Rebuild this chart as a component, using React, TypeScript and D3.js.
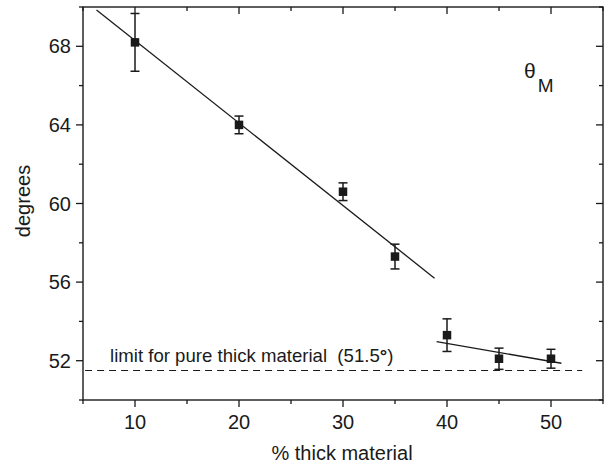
import React, { useRef, useEffect } from "react";
import * as d3 from "d3";

// % thick material vs theta_M (degrees)
const thick = [10, 20, 30, 35, 40, 45, 50];
const theta = [68.2, 64.0, 60.6, 57.3, 53.3, 52.1, 52.1];
const errs = [1.47, 0.45, 0.45, 0.63, 0.83, 0.54, 0.48];

// fitted lines, endpoints
const fitA: [number, number][] = [[6.3, 69.85], [38.8, 56.2]];
const fitB: [number, number][] = [[39.0, 52.97], [51.0, 51.87]];

const limitValue = 51.5;
const limitRange = [5.2, 53];
const limitLabel = "limit for pure thick material  (51.5";

const xMajor = [10, 20, 30, 40, 50];
const xMinor = [5, 15, 25, 35, 45, 55];
const yMajor = [52, 56, 60, 64, 68];
const yMinor = [50, 54, 58, 62, 66, 70];

const W = 605;
const H = 466;
const FONT = "'Liberation Sans', Arial, Helvetica, sans-serif";
const INK = "#1a1a1a";

const ThetaChart = () => {
  const ref = useRef<SVGSVGElement>(null);

  useEffect(() => {
    const m = { top: 7, right: 2, bottom: 66, left: 83 };
    const svg = d3.select(ref.current);
    svg.selectAll("*").remove();

    const x = d3.scaleLinear().domain([5, 55]).range([m.left, W - m.right]);
    const y = d3.scaleLinear().domain([50, 70]).range([H - m.bottom, m.top]);

    const g = svg.append("g");

    // dashed limit
    g.append("line")
      .attr("x1", x(limitRange[0]))
      .attr("x2", x(limitRange[1]))
      .attr("y1", y(limitValue))
      .attr("y2", y(limitValue))
      .attr("stroke", INK)
      .attr("stroke-width", 1.1)
      .attr("stroke-dasharray", "7,5");

    const lt = g.append("text")
      .attr("x", x(7.6))
      .attr("y", y(limitValue) - 8.5)
      .attr("font-family", FONT)
      .attr("font-size", 18.6)
      .attr("fill", INK)
      .attr("xml:space", "preserve")
      .style("white-space", "pre");
    lt.append("tspan").text(limitLabel);
    lt.append("tspan").attr("font-weight", "bold").text("°");
    lt.append("tspan").text(")");

    // fit lines
    const line = d3.line<[number, number]>().x((d) => x(d[0])).y((d) => y(d[1]));
    [fitA, fitB].forEach((f) => {
      g.append("path")
        .attr("d", line(f))
        .attr("fill", "none")
        .attr("stroke", INK)
        .attr("stroke-width", 1.3);
    });

    // error bars
    const pts = thick.map((t, i) => ({ t, v: theta[i], e: errs[i] }));
    const eb = g.selectAll("g.eb").data(pts).join("g").attr("class", "eb")
      .attr("stroke", INK).attr("stroke-width", 1.5);
    eb.append("line")
      .attr("x1", (d) => x(d.t)).attr("x2", (d) => x(d.t))
      .attr("y1", (d) => y(d.v - d.e)).attr("y2", (d) => y(d.v + d.e));
    eb.append("line")
      .attr("x1", (d) => x(d.t) - 4.5).attr("x2", (d) => x(d.t) + 4.5)
      .attr("y1", (d) => y(d.v + d.e)).attr("y2", (d) => y(d.v + d.e));
    eb.append("line")
      .attr("x1", (d) => x(d.t) - 4.5).attr("x2", (d) => x(d.t) + 4.5)
      .attr("y1", (d) => y(d.v - d.e)).attr("y2", (d) => y(d.v - d.e));

    // squares
    const s = 8.5;
    g.selectAll("rect.pt").data(pts).join("rect").attr("class", "pt")
      .attr("x", (d) => x(d.t) - s / 2)
      .attr("y", (d) => y(d.v) - s / 2)
      .attr("width", s)
      .attr("height", s)
      .attr("fill", INK);

    // frame
    svg.append("rect")
      .attr("x", m.left)
      .attr("y", m.top)
      .attr("width", W - m.right - m.left)
      .attr("height", H - m.bottom - m.top)
      .attr("fill", "none")
      .attr("stroke", INK)
      .attr("stroke-width", 1.4);

    const ax = svg.append("g").attr("stroke", INK).attr("stroke-width", 1.3);
    const yb = H - m.bottom;
    const xr = W - m.right;
    // bottom (outward) and top (inward)
    xMajor.forEach((t) => {
      ax.append("line").attr("x1", x(t)).attr("x2", x(t)).attr("y1", yb).attr("y2", yb + 7);
      ax.append("line").attr("x1", x(t)).attr("x2", x(t)).attr("y1", m.top).attr("y2", m.top + 7);
    });
    xMinor.forEach((t) => {
      ax.append("line").attr("x1", x(t)).attr("x2", x(t)).attr("y1", yb).attr("y2", yb + 4);
      ax.append("line").attr("x1", x(t)).attr("x2", x(t)).attr("y1", m.top).attr("y2", m.top + 4);
    });
    // left (outward) and right (inward)
    yMajor.forEach((v) => {
      ax.append("line").attr("x1", m.left - 7).attr("x2", m.left).attr("y1", y(v)).attr("y2", y(v));
      ax.append("line").attr("x1", xr - 7).attr("x2", xr).attr("y1", y(v)).attr("y2", y(v));
    });
    yMinor.forEach((v) => {
      ax.append("line").attr("x1", m.left - 4).attr("x2", m.left).attr("y1", y(v)).attr("y2", y(v));
      ax.append("line").attr("x1", xr - 4).attr("x2", xr).attr("y1", y(v)).attr("y2", y(v));
    });

    const lab = svg.append("g").attr("font-family", FONT).attr("font-size", 20).attr("fill", INK);
    lab.selectAll("text.xt").data(xMajor).join("text").attr("class", "xt")
      .attr("x", (d) => x(d))
      .attr("y", yb + 29)
      .attr("text-anchor", "middle")
      .text((d) => d);
    lab.selectAll("text.yt").data(yMajor).join("text").attr("class", "yt")
      .attr("x", m.left - 12)
      .attr("y", (d) => y(d) + 7)
      .attr("text-anchor", "end")
      .text((d) => d);

    lab.append("text")
      .attr("x", (m.left + xr) / 2 - 1)
      .attr("y", H - 6)
      .attr("text-anchor", "middle")
      .text("% thick material");

    lab.append("text")
      .attr("transform", `translate(29.5, 201) rotate(-90)`)
      .attr("text-anchor", "middle")
      .text("degrees");

    const tl = lab.append("text").attr("x", 524).attr("y", 78);
    tl.append("tspan").attr("font-size", 21).text("θ");
    tl.append("tspan").attr("font-size", 19).attr("dx", 2).attr("dy", 14).text("M");
  }, []);

  return (
    <svg
      ref={ref}
      width={W}
      height={H}
      style={{ position: "absolute", left: 0, top: 0, background: "#fff" }}
    />
  );
};

export default function App() {
  return <ThetaChart />;
}
